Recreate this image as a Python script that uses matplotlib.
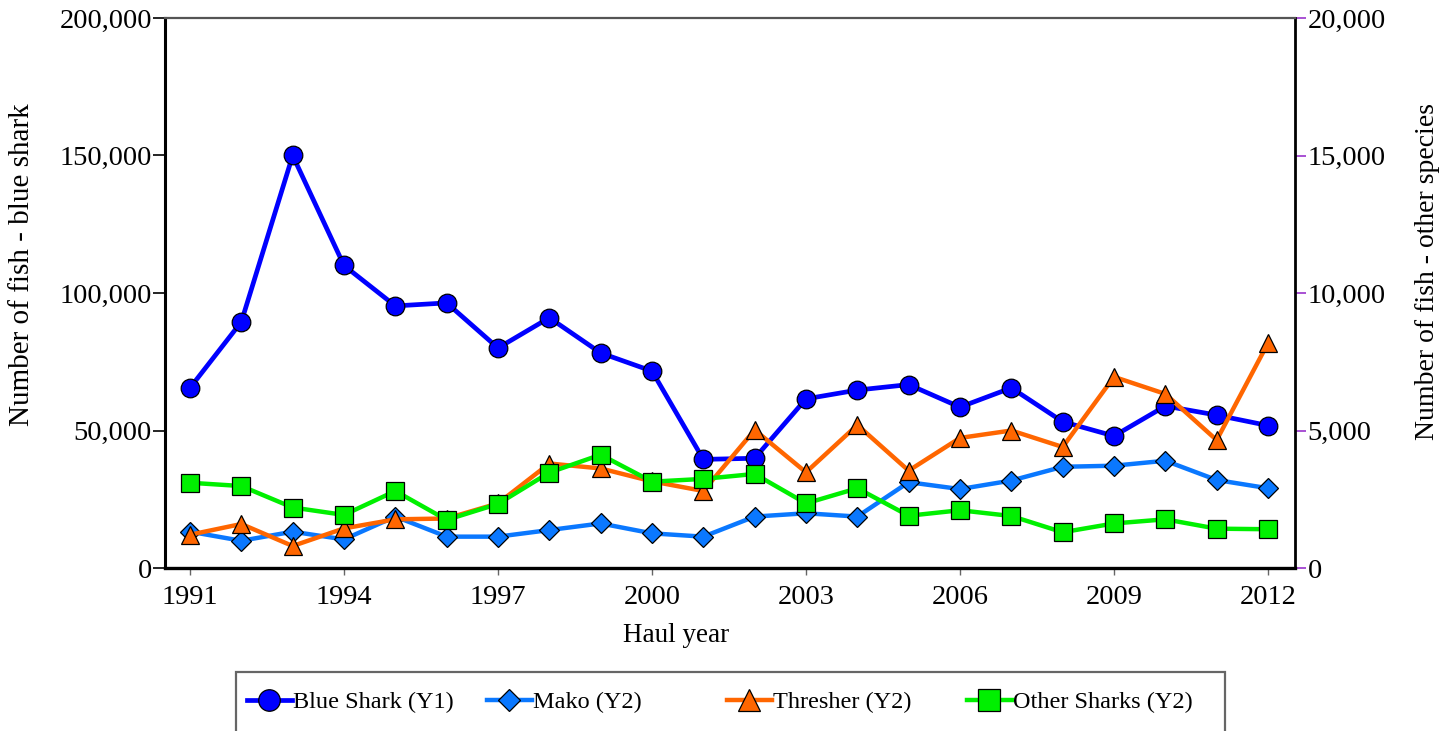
import matplotlib
matplotlib.use("Agg")
import matplotlib.pyplot as plt
from matplotlib.ticker import FuncFormatter, FixedLocator
from matplotlib.lines import Line2D
from matplotlib.patches import Rectangle

plt.rcParams['font.family'] = ['Liberation Serif', 'DejaVu Serif']

# ---------------- data ----------------
years = list(range(1991, 2013))
blue_shark = [65500, 89500, 150000, 110000, 95300, 96400, 80000, 91000, 78200, 71600,
              39500, 39900, 61500, 64700, 66700, 58500, 65500, 53200, 48000, 58900,
              55600, 51800]
mako = [1320, 990, 1320, 1040, 1870, 1140, 1140, 1380, 1620, 1260,
        1140, 1870, 1990, 1870, 3120, 2870, 3180, 3680, 3720, 3900,
        3200, 2900]
thresher = [1210, 1600, 800, 1440, 1770, 1800, 2350, 3800, 3620, 3150,
            2800, 5020, 3480, 5200, 3540, 4730, 5000, 4400, 6950, 6330,
            4650, 8180]
other_sharks = [3100, 2980, 2200, 1930, 2800, 1750, 2330, 3470, 4120, 3140,
                3240, 3420, 2350, 2900, 1900, 2100, 1890, 1300, 1620, 1770,
                1430, 1410]

x_ticks = [1991, 1994, 1997, 2000, 2003, 2006, 2009, 2012]
y1_ticks = [0, 50000, 100000, 150000, 200000]
y2_ticks = [0, 5000, 10000, 15000, 20000]
series_names = ['Blue Shark (Y1)', 'Mako (Y2)', 'Thresher (Y2)', 'Other Sharks (Y2)']

# ---------------- style ----------------
C_BLUE = '#0000FF'
C_MAKO = '#0A78FF'
C_THR = '#FF6600'
C_OTH = '#00F000'

W, H = 1456, 731
fig = plt.figure(figsize=(W / 100, H / 100), dpi=100)
ax1 = fig.add_axes([165 / W, 1 - 568 / H, (1295 - 165) / W, (568 - 18) / H])
ax2 = ax1.twinx()

lw = 3.2
mew = 0.9
ax1.plot(years, blue_shark, color=C_BLUE, lw=3.4, marker='o', ms=13.4,
         mfc=C_BLUE, mec='black', mew=mew, zorder=3)
ax2.plot(years, mako, color=C_MAKO, lw=lw, marker='D', ms=10.6,
         mfc=C_MAKO, mec='black', mew=mew, zorder=3)
ax2.plot(years, thresher, color=C_THR, lw=lw, marker='^', ms=13.6,
         mfc=C_THR, mec='black', mew=mew, zorder=4)
ax2.plot(years, other_sharks, color=C_OTH, lw=lw, marker='s', ms=13.0,
         mfc=C_OTH, mec='black', mew=mew, zorder=5)

# limits
px_per_year = (1268 - 190) / 21
ax1.set_xlim(1991 - (190 - 165) / px_per_year, 2012 + (1295 - 1268) / px_per_year)
ax1.set_ylim(0, 200000)
ax2.set_ylim(0, 20000)

fs = 20.5
ax1.xaxis.set_major_locator(FixedLocator(x_ticks))
ax1.set_xticklabels([str(y) for y in x_ticks])
ax1.yaxis.set_major_locator(FixedLocator(y1_ticks))
ax1.yaxis.set_major_formatter(FuncFormatter(lambda v, p: f"{int(v):,}"))
ax2.yaxis.set_major_locator(FixedLocator(y2_ticks))
ax2.yaxis.set_major_formatter(FuncFormatter(lambda v, p: f"{int(v):,}"))

ax1.tick_params(axis='x', direction='out', length=5, width=1, color='#666666',
                labelsize=fs, pad=7)
ax1.tick_params(axis='y', direction='out', length=8.5, width=1.2, color='black',
                labelsize=fs, pad=1)
ax2.tick_params(axis='y', direction='out', length=8, width=1.2, color='#9933CC',
                labelcolor='black', labelsize=fs, pad=1)

for ax in (ax1, ax2):
    for s in ax.spines.values():
        s.set_visible(False)
ax2.spines['left'].set_visible(True)
ax2.spines['left'].set_color('black')
ax2.spines['left'].set_linewidth(2.2)
ax2.spines['bottom'].set_visible(True)
ax2.spines['bottom'].set_color('black')
ax2.spines['bottom'].set_linewidth(2.4)
ax2.spines['right'].set_visible(True)
ax2.spines['right'].set_color('black')
ax2.spines['right'].set_linewidth(2.0)
ax2.spines['top'].set_visible(True)
ax2.spines['top'].set_color('#555555')
ax2.spines['top'].set_linewidth(1.6)

ax1.set_ylabel('Number of fish - blue shark', fontsize=21)
ax1.yaxis.set_label_coords((22 - 165) / 1130, (568 - 265) / 550)
ax1.yaxis.label.set_va('center')
ax2.set_ylabel('Number of fish - other species', fontsize=20, rotation=90)
ax2.yaxis.set_label_coords((1428 - 165) / 1130, (568 - 272) / 550)
ax2.yaxis.label.set_va('center')
ax1.set_xlabel('Haul year', fontsize=19.5)
ax1.xaxis.set_label_coords((676 - 165) / 1130, (568 - 636) / 550)
ax1.xaxis.label.set_va('center')

# legend box (extends past bottom edge)
fig.patches.append(Rectangle((236 / W, -0.2), (1225 - 236) / W, (1 - 672 / H) + 0.2,
                             transform=fig.transFigure, fill=False,
                             edgecolor='#666666', lw=1.6, zorder=0))

handles = [
    Line2D([], [], color=C_BLUE, lw=3.4, marker='o', ms=15.5, mfc=C_BLUE, mec='black', mew=mew),
    Line2D([], [], color=C_MAKO, lw=lw, marker='D', ms=11, mfc=C_MAKO, mec='black', mew=mew),
    Line2D([], [], color=C_THR, lw=lw, marker='^', ms=15.5, mfc=C_THR, mec='black', mew=mew),
    Line2D([], [], color=C_OTH, lw=lw, marker='s', ms=15.5, mfc=C_OTH, mec='black', mew=mew),
]
leg_x = [247, 487, 727, 967]
for hnd, name, lx in zip(handles, series_names, leg_x):
    fig.legend(handles=[hnd], labels=[name], loc='center left',
               bbox_to_anchor=(lx / W, 1 - 702 / H), frameon=False,
               fontsize=17.5, handlelength=1.85, handletextpad=0.05,
               borderpad=0, borderaxespad=0, numpoints=1)

fig.savefig('out.png', dpi=100)
